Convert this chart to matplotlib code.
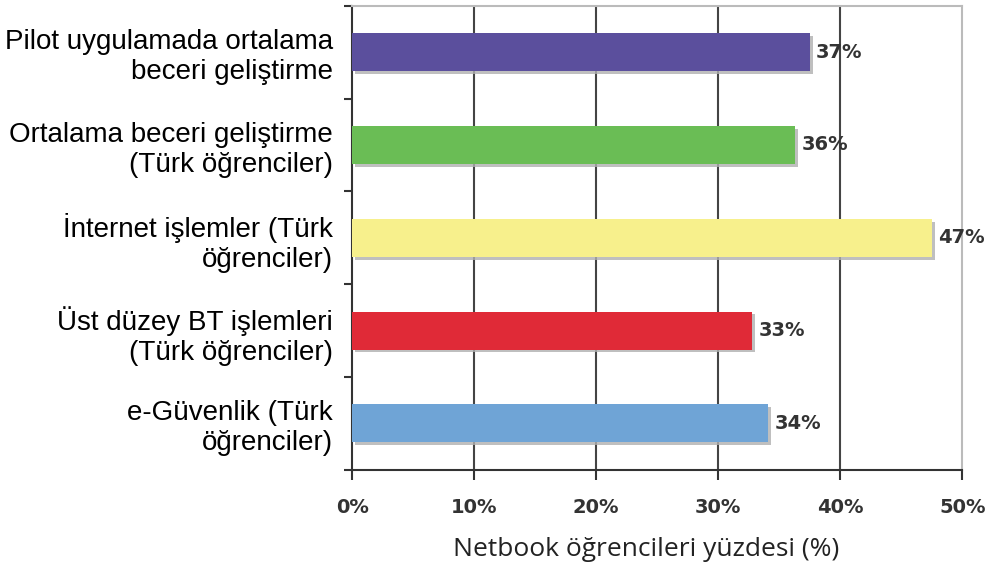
import matplotlib
matplotlib.use('Agg')
import matplotlib.pyplot as plt
import matplotlib.patheffects as pe
import numpy as np

# kategoriler (yukaridan asagiya)
categories = ['Pilot uygulamada ortalama\nbeceri geliştirme',
              'Ortalama beceri geliştirme\n(Türk öğrenciler)',
              'İnternet işlemler (Türk\nöğrenciler)',
              'Üst düzey BT işlemleri\n(Türk öğrenciler)',
              'e-Güvenlik (Türk\nöğrenciler)']
values = [37.5, 36.3, 47.5, 32.8, 34.1]
value_labels = ['37%', '36%', '47%', '33%', '34%']
colors = ['#5b4f9d', '#6abd55', '#f7f08c', '#e02a37', '#6fa4d6']
xticks = [0, 10, 20, 30, 40, 50]

fig = plt.figure(figsize=(9.89, 5.73), dpi=100)
ax = fig.add_axes([0.356, 0.180, 0.617, 0.810])

y = np.arange(len(categories))[::-1]
bars = ax.barh(y, values, height=0.41, color=colors, zorder=3)
for b in bars:
    b.set_path_effects([pe.SimplePatchShadow(offset=(2, -2), shadow_rgbFace='#b0b0b0', alpha=0.8),
                        pe.Normal()])

for yi, v, lab in zip(y, values, value_labels):
    ax.text(v + 0.5, yi, lab, va='center', ha='left', fontsize=14,
            fontweight='bold', color='#333333', zorder=4)

ax.set_xlim(0, 50)
ax.set_ylim(-0.5, len(categories) - 0.5)
ax.set_xticks(xticks)
ax.set_xticklabels([f'{t}%' for t in xticks], fontsize=14, fontweight='bold', color='#333333')
ax.tick_params(axis='x', direction='out', length=7, width=1.5, color='#333333', pad=13)

# y: etiketler merkezde, tick cizgileri sinirlarda
ax.set_yticks(y)
ax.set_yticklabels(categories, fontsize=20, family='Liberation Sans', linespacing=1.2)
ax.tick_params(axis='y', which='major', length=0, pad=14)
ax.set_yticks(np.arange(-0.5, len(categories)), minor=True)
ax.tick_params(axis='y', which='minor', direction='out', length=6, width=1.5, color='#333333')

for t in [10, 20, 30, 40]:
    ax.axvline(t, color='#444444', lw=1.5, zorder=1)

ax.spines['left'].set_color('#333333')
ax.spines['left'].set_linewidth(1.5)
ax.spines['bottom'].set_color('#333333')
ax.spines['bottom'].set_linewidth(1.5)
ax.spines['top'].set_color('#bbbbbb')
ax.spines['top'].set_linewidth(1.5)
ax.spines['right'].set_color('#bbbbbb')
ax.spines['right'].set_linewidth(1.5)

ax.set_xlabel('Netbook öğrencileri yüzdesi (%)', fontsize=19, family='Open Sans',
              color='#222222')
ax.xaxis.set_label_coords(0.482, -0.145)

fig.savefig('out.png', dpi=100)
